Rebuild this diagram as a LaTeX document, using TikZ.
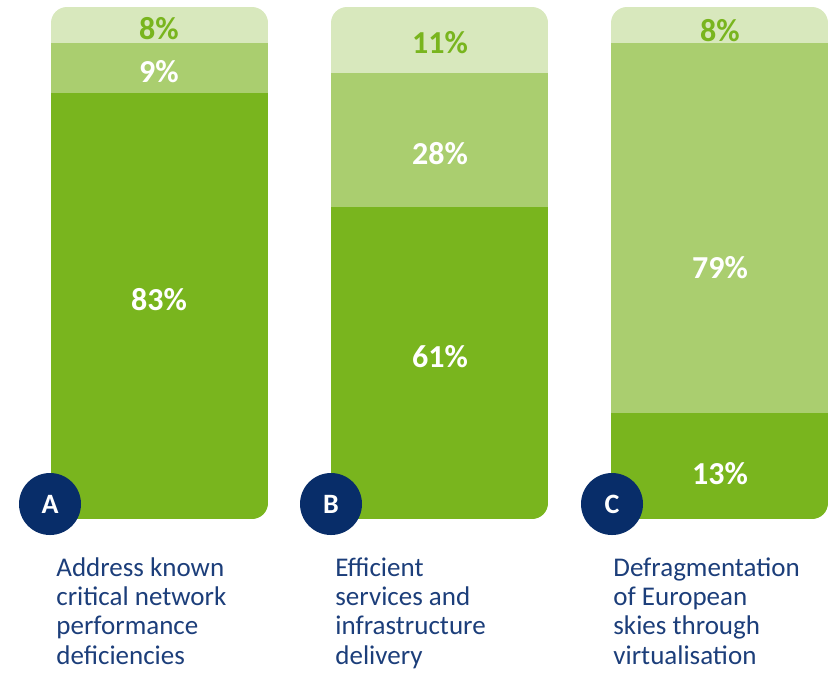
\documentclass[tikz,border=0pt]{standalone}
\usepackage{fontspec}
\setmainfont{Carlito}
\usepackage{tikz}
\usetikzlibrary{positioning}
\definecolor{darkgreen}{RGB}{121,181,30}
\definecolor{midgreen}{RGB}{170,206,111}
\definecolor{lightgreen}{RGB}{216,232,189}
\definecolor{navy}{RGB}{8,45,105}
\definecolor{captionblue}{RGB}{28,62,122}

\begin{document}
\begin{tikzpicture}[x=0.5pt,y=-0.5pt,
  pct/.style={font=\fontsize{16}{18}\selectfont\bfseries, text=white, inner sep=0pt},
  pctdark/.style={pct, text=darkgreen},
  letter node/.style={circle, fill=navy, text=white, minimum size=31pt, inner sep=0pt,
    font=\fontsize{14}{16}\selectfont\bfseries},
  caption/.style={anchor=north west, align=left, inner sep=0pt, text=captionblue,
    font=\fontsize{13.5}{14.7}\selectfont}]
  \useasboundingbox (0,0) rectangle (833,675);

  % bar A
  \begin{scope}
    \clip[rounded corners=8pt] (51,7) rectangle (268,519);
    \fill[lightgreen] (51,7) rectangle (268,43);
    \fill[midgreen] (51,43) rectangle (268,93);
    \fill[darkgreen] (51,93) rectangle (268,519);
  \end{scope}
  % bar B
  \begin{scope}
    \clip[rounded corners=8pt] (331,7) rectangle (548,519);
    \fill[lightgreen] (331,7) rectangle (548,73);
    \fill[midgreen] (331,73) rectangle (548,207);
    \fill[darkgreen] (331,207) rectangle (548,519);
  \end{scope}
  % bar C
  \begin{scope}
    \clip[rounded corners=8pt] (611,7) rectangle (828,519);
    \fill[lightgreen] (611,7) rectangle (828,43);
    \fill[midgreen] (611,43) rectangle (828,413);
    \fill[darkgreen] (611,413) rectangle (828,519);
  \end{scope}

  \node[pctdark] (A8) at (159,29) {8\%};
  \node[pct] (A9) at (159,72) {9\%};
  \node[pct] (A83) at (159,300) {83\%};
  \node[pctdark] (B11) at (440,43) {11\%};
  \node[pct] (B28) at (440,154) {28\%};
  \node[pct] (B61) at (440,357) {61\%};
  \node[pctdark] (C8) at (720,31) {8\%};
  \node[pct] (C79) at (720,268) {79\%};
  \node[pct] (C13) at (720,474) {13\%};

  \node[letter node] (LA) at (50,504) {A};
  \node[letter node] (LB) at (331,504) {B};
  \node[letter node] (LC) at (612,504) {C};

  \node[caption] (TA) at (56,557) {Address known\\critical network\\performance\\deficiencies};
  \node[caption] (TB) at (335,557) {Efficient\\services and\\infrastructure\\delivery};
  \node[caption] (TC) at (613,557) {Defragmentation\\of European\\skies through\\virtualisation};
\end{tikzpicture}
\end{document}
